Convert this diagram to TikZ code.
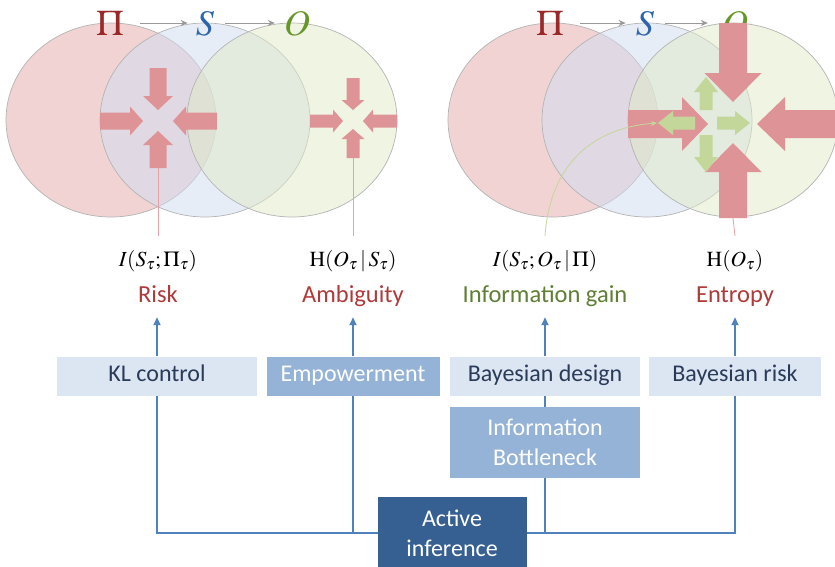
\documentclass[tikz,border=0pt]{standalone}
\usepackage{mathptmx}
\usepackage[no-math]{fontspec}
\setmainfont{Carlito}
\usetikzlibrary{arrows.meta,calc}

\definecolor{circred}{RGB}{229,169,169}
\definecolor{circblue}{RGB}{209,221,241}
\definecolor{circgreen}{RGB}{225,235,201}
\definecolor{circline}{RGB}{180,180,180}
\definecolor{blockred}{RGB}{222,148,150}
\definecolor{blockgreen}{RGB}{196,215,155}
\definecolor{pinkline}{RGB}{232,160,165}
\definecolor{titlered}{RGB}{155,40,40}
\definecolor{titleblue}{RGB}{46,100,170}
\definecolor{titlegreen}{RGB}{100,150,40}
\definecolor{namered}{RGB}{176,58,58}
\definecolor{namegreen}{RGB}{94,127,53}
\definecolor{boxlight}{RGB}{220,230,242}
\definecolor{boxmid}{RGB}{149,179,215}
\definecolor{boxdark}{RGB}{54,96,146}
\definecolor{boxtext}{RGB}{42,59,90}
\definecolor{linkblue}{RGB}{79,129,189}

% block arrow: tip x, tip y, direction, total length, shaft half width,
% head half width, head length, colour
\newcommand\blockarr[8]{%
  \begin{scope}[shift={(#1,#2)},rotate=#3]
    \fill[#8] (0,0) -- (-#7,#6) -- (-#7,#5) -- (-#4,#5) -- (-#4,-#5)
      -- (-#7,-#5) -- (-#7,-#6) -- cycle;
  \end{scope}}

\tikzset{
  venn/.style={draw=circline, line width=0.7pt, fill opacity=0.5},
  title/.style={font=\fontsize{36}{40}\selectfont, inner sep=0pt,
    text height=25pt, text depth=0pt},
  flow/.style={draw=gray!80, line width=0.8pt, -{Stealth[length=7pt,width=6pt]}},
  mathlabel/.style={font=\fontsize{21.5}{24}\selectfont, text height=14pt,
    text depth=6pt, inner xsep=2pt, inner ysep=16pt},
  namelabel/.style={font=\fontsize{24.5}{28}\selectfont, text height=15pt,
    text depth=5pt, inner xsep=2pt, inner ysep=10pt},
  termbox/.style={font=\fontsize{24}{30}\selectfont, minimum height=39pt,
    inner sep=0pt, align=center},
  oneline/.style={text height=16pt, text depth=5pt},
  lightbox/.style={termbox, oneline, fill=boxlight, text=boxtext},
  midbox/.style={termbox, fill=boxmid, text=white},
  darkbox/.style={termbox, fill=boxdark, text=white},
  link/.style={draw=linkblue, line width=1.6pt},
  linkarrow/.style={link, -{Triangle[length=8pt,width=7pt]}},
  pinkrule/.style={draw=pinkline, line width=0.8pt},
}

\begin{document}
\begin{tikzpicture}[x=1pt, y=-1pt]
\useasboundingbox (0,0) rectangle (835,566);
\clip (0,0) rectangle (835,566);
\fill[white] (0,0) rectangle (835,566);

% ---------- left diagram: risk and ambiguity ----------
\filldraw[venn, fill=circred]   (111,120) ellipse [x radius=105, y radius=97];
\filldraw[venn, fill=circblue]  (205,120) ellipse [x radius=105, y radius=97];
\filldraw[venn, fill=circgreen] (292,120) ellipse [x radius=105, y radius=97];

\node[title, text=titlered]   (piL) at (110,23) {$\Pi$};
\node[title, text=titleblue]  (sL)  at (205,23) {$S$};
\node[title, text=titlegreen] (oL)  at (297,23) {$O$};
\draw[flow, shorten <=16pt, shorten >=8pt] (piL) -- (sL);
\draw[flow, shorten <=11pt, shorten >=9pt] (sL) -- (oL);

% converging arrows (risk)
\blockarr{158}{110}{-90}{42}{8.5}{15}{14}{blockred}
\blockarr{158}{131}{90}{37}{8.5}{15}{14}{blockred}
\blockarr{143}{121}{0}{43}{8.5}{14.5}{13}{blockred}
\blockarr{173}{121}{180}{44}{8.5}{14.5}{13}{blockred}
\coordinate (riskfoot) at (158,168);

% converging arrows (ambiguity)
\blockarr{353}{110}{-90}{32}{6.5}{11.5}{10}{blockred}
\blockarr{353}{129}{90}{29}{6.5}{11.5}{10}{blockred}
\blockarr{343}{121}{0}{33}{6.5}{11.5}{10}{blockred}
\blockarr{363}{121}{180}{34}{6.5}{11.5}{10}{blockred}
\coordinate (ambfoot) at (353,158);

% ---------- right diagram: information gain and entropy ----------
\filldraw[venn, fill=circred]   (553,120) ellipse [x radius=105, y radius=97];
\filldraw[venn, fill=circblue]  (647,120) ellipse [x radius=105, y radius=97];
\filldraw[venn, fill=circgreen] (733,120) ellipse [x radius=105, y radius=97];

\node[title, text=titlered]   (piR) at (550,23) {$\Pi$};
\node[title, text=titleblue]  (sR)  at (645,23) {$S$};
\node[title, text=titlegreen] (oR)  at (735,23) {$O$};
\draw[flow, shorten <=16pt, shorten >=10pt] (piR) -- (sR);
\draw[flow, shorten <=11pt, shorten >=14pt] (sR) -- (oR);

% converging arrows (entropy)
\blockarr{733}{102}{-90}{79}{14}{28.5}{29}{blockred}
\blockarr{733}{143}{90}{75}{14}{28.5}{29}{blockred}
\blockarr{708}{124}{0}{80}{14}{27}{26}{blockred}
\blockarr{757}{124}{180}{83}{14}{27}{28}{blockred}
\coordinate (entfoot) at (733,218);

% diverging arrows (information gain)
\blockarr{658}{123}{180}{37}{6.5}{12}{15}{blockgreen}
\blockarr{750}{123}{0}{33}{6.5}{12}{15}{blockgreen}
\blockarr{706}{77}{90}{33}{6.5}{12}{15}{blockgreen}
\blockarr{706}{172}{-90}{37}{6.5}{12}{15}{blockgreen}
\coordinate (gaintip) at (657,123);

% ---------- quantities and their names ----------
\node[mathlabel] (mRisk) at (158,262) {$I(S_\tau;\Pi_\tau)$};
\node[mathlabel] (mAmb)  at (353,262) {$\mathrm{H}(O_\tau\,|\,S_\tau)$};
\node[mathlabel] (mGain) at (545,262) {$I(S_\tau;O_\tau\,|\,\Pi)$};
\node[mathlabel] (mEnt)  at (735,262) {$\mathrm{H}(O_\tau)$};

\draw[pinkrule] (riskfoot) -- (mRisk.north);
\draw[pinkrule] (ambfoot) -- (mAmb.north);
\draw[pinkrule] (entfoot) -- (mEnt.north);
\draw[draw=blockgreen, line width=0.8pt, -{Stealth[length=6pt,width=5pt]}]
  (mGain.north) .. controls (550,165) and (592,128) .. (gaintip);

\node[namelabel, text=namered]   (risk) at (158,297) {Risk};
\node[namelabel, text=namered]   (amb)  at (353,297) {Ambiguity};
\node[namelabel, text=namegreen] (gain) at (545,297) {Information gain};
\node[namelabel, text=namered]   (ent)  at (735,297) {Entropy};

% ---------- frameworks ----------
\node[lightbox, minimum width=200pt] (kl)  at (157,376) {KL control};
\node[midbox, oneline, minimum width=173pt] (emp) at (353,376) {Empowerment};
\node[lightbox, minimum width=190pt] (bd)  at (545,376) {Bayesian design};
\node[lightbox, minimum width=172pt] (br)  at (735,376) {Bayesian risk};
\node[midbox, minimum width=190pt, minimum height=71pt] (ib) at (545,442.5)
  {Information\\Bottleneck};

% links from the frameworks to the quantities
\draw[linkarrow] (kl.north)  -- (kl.north  |- risk.south);
\draw[linkarrow] (emp.north) -- (emp.north |- amb.south);
\draw[linkarrow] (bd.north)  -- (bd.north  |- gain.south);
\draw[linkarrow] (br.north)  -- (br.north  |- ent.south);

% tree joining everything to active inference
\coordinate (hub) at (452,533);
\draw[link] (kl.south) |- (hub);
\draw[link] (emp.south) -- (emp.south |- hub);
\draw[link] (bd.south) -- (ib.north);
\draw[link] (ib.south) -- (ib.south |- hub);
\draw[link] (br.south) |- (hub);
\node[darkbox, minimum width=149pt, minimum height=72pt] (act) at (hub)
  {Active\\inference};
\end{tikzpicture}
\end{document}
